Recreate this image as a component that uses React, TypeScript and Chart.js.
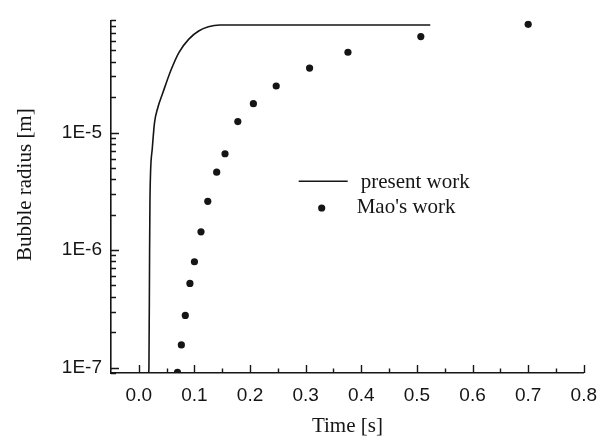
import React, { useEffect, useRef } from "react";
import { Chart, registerables } from "chart.js";

Chart.register(...registerables);

// ---- data ----
const presentTime = [0.0176, 0.0182, 0.0194, 0.02, 0.0212, 0.0242, 0.0282, 0.034, 0.0429, 0.0577, 0.0723, 0.0899, 0.1076, 0.125, 0.146, 0.524];
const presentRadius = [9e-8, 1e-7, 1e-6, 2.5e-6, 4.7e-6, 7.3e-6, 1.21e-5, 1.62e-5, 2.16e-5, 3.39e-5, 4.82e-5, 6.24e-5, 7.31e-5, 7.94e-5, 8.22e-5, 8.22e-5];

const maoTime = [0.0695, 0.0765, 0.0836, 0.0919, 0.1, 0.1118, 0.124, 0.14, 0.155, 0.178, 0.206, 0.247, 0.307, 0.376, 0.507, 0.7];
const maoRadius = [9.1e-8, 1.56e-7, 2.78e-7, 5.2e-7, 7.96e-7, 1.43e-6, 2.6e-6, 4.6e-6, 6.6e-6, 1.24e-5, 1.76e-5, 2.49e-5, 3.54e-5, 4.82e-5, 6.56e-5, 8.33e-5];

const xMajorTicks = [0.0, 0.1, 0.2, 0.3, 0.4, 0.5, 0.6, 0.7, 0.8];
const xMinorTicks = [0.05, 0.15, 0.25, 0.35, 0.45, 0.55, 0.65, 0.75];
const yMajorTicks = [1e-7, 1e-6, 1e-5];
const yDecades = [1e-8, 1e-7, 1e-6, 1e-5];

const seriesNames = ["present work", "Mao's work"];
const xTitle = "Time [s]";
const yTitle = "Bubble radius [m]";

const X_MIN = -0.05;
const X_MAX = 0.8;
const Y_MIN = 9e-8;
const Y_MAX = 9e-5;

const INK = "#151515";
const SANS = "'Liberation Sans', Arial, sans-serif";
const SERIF = "'Liberation Serif', 'Times New Roman', serif";

function fmtSci(v: number) {
  const e = Math.round(Math.log10(v));
  return "1E" + e;
}

const decorPlugin = {
  id: "decor",
  afterDraw(chart: any) {
    const { ctx, chartArea } = chart;
    const xs = chart.scales.x;
    const ys = chart.scales.y;
    ctx.save();
    ctx.strokeStyle = INK;
    ctx.lineWidth = 1.4;
    // x ticks (inward)
    const bottom = chartArea.bottom;
    ctx.beginPath();
    xMajorTicks.forEach((v) => {
      const px = Math.round(xs.getPixelForValue(v)) + 0.5;
      ctx.moveTo(px, bottom);
      ctx.lineTo(px, bottom - 8);
    });
    xMinorTicks.forEach((v) => {
      const px = Math.round(xs.getPixelForValue(v)) + 0.5;
      ctx.moveTo(px, bottom);
      ctx.lineTo(px, bottom - 4.5);
    });
    // y ticks (inward)
    const left = chartArea.left;
    yMajorTicks.forEach((v) => {
      const py = Math.round(ys.getPixelForValue(v)) + 0.5;
      ctx.moveTo(left, py);
      ctx.lineTo(left + 8, py);
    });
    yDecades.forEach((d) => {
      for (let m = 2; m <= 9; m++) {
        const v = m * d;
        if (v < Y_MIN * 0.999 || v > Y_MAX * 1.001) continue;
        const py = Math.round(ys.getPixelForValue(v)) + 0.5;
        ctx.moveTo(left, py);
        ctx.lineTo(left + 5, py);
      }
    });
    ctx.stroke();

    // y title
    ctx.fillStyle = INK;
    ctx.font = "21px " + SERIF;
    ctx.textAlign = "center";
    ctx.textBaseline = "middle";
    ctx.save();
    ctx.translate(25, (chartArea.top + chartArea.bottom) / 2 - 12);
    ctx.rotate(-Math.PI / 2);
    ctx.fillText(yTitle, 0, 0);
    ctx.restore();

    // legend
    const w = chartArea.right - chartArea.left;
    const h = chartArea.bottom - chartArea.top;
    const lx = chartArea.left + 0.397 * w;
    const ly1 = chartArea.top + 0.456 * h;
    const ly2 = chartArea.top + 0.532 * h;
    ctx.lineWidth = 1.5;
    ctx.beginPath();
    ctx.moveTo(lx, ly1);
    ctx.lineTo(lx + 49, ly1);
    ctx.stroke();
    ctx.beginPath();
    ctx.arc(lx + 23, ly2, 3.6, 0, Math.PI * 2);
    ctx.fill();
    ctx.textAlign = "left";
    ctx.textBaseline = "alphabetic";
    ctx.fillText(seriesNames[0], lx + 62, ly1 + 7);
    ctx.fillText(seriesNames[1], lx + 58, ly2 + 5);
    ctx.restore();
  },
};

export default function App() {
  const ref = useRef<HTMLCanvasElement>(null);
  useEffect(() => {
    if (!ref.current) return;
    const chart = new Chart(ref.current, {
      type: "scatter",
      data: {
        datasets: [
          {
            type: "line",
            label: seriesNames[0],
            data: presentTime.map((t, i) => ({ x: t, y: presentRadius[i] })),
            borderColor: INK,
            borderWidth: 1.6,
            pointRadius: 0,
            fill: false,
            cubicInterpolationMode: "monotone",
          },
          {
            type: "scatter",
            label: seriesNames[1],
            data: maoTime.map((t, i) => ({ x: t, y: maoRadius[i] })),
            backgroundColor: INK,
            borderColor: INK,
            borderWidth: 0,
            pointRadius: 3.6,
          },
        ],
      } as any,
      options: {
        animation: false,
        responsive: false,
        maintainAspectRatio: false,
        layout: { padding: { left: 0, right: 15, top: 14, bottom: 0 } },
        plugins: { legend: { display: false }, tooltip: { enabled: false } },
        scales: {
          x: {
            type: "linear",
            min: X_MIN,
            max: X_MAX,
            afterBuildTicks: (scale: any) => {
              scale.ticks = xMajorTicks.map((v) => ({ value: v }));
            },
            afterFit: (scale: any) => {
              scale.height = 64;
            },
            grid: { display: false, drawTicks: false },
            border: { display: true, color: INK, width: 1.6 },
            ticks: {
              autoSkip: false,
              maxRotation: 0,
              padding: 11,
              color: INK,
              font: { family: SANS, size: 19 },
              callback: (v: any) => Number(v).toFixed(1),
            },
            title: {
              display: true,
              text: xTitle,
              color: INK,
              font: { family: SERIF, size: 21, lineHeight: 1 },
              padding: { top: 0, bottom: 0 },
            },
          },
          y: {
            type: "logarithmic",
            min: Y_MIN,
            max: Y_MAX,
            afterBuildTicks: (scale: any) => {
              scale.ticks = yMajorTicks.map((v) => ({ value: v }));
            },
            afterFit: (scale: any) => {
              scale.width = 111;
            },
            grid: { display: false, drawTicks: false },
            border: { display: true, color: INK, width: 1.6 },
            ticks: {
              autoSkip: false,
              padding: 9,
              color: INK,
              font: { family: SANS, size: 19 },
              callback: (v: any) => fmtSci(Number(v)),
            },
            title: { display: false },
          },
        },
      } as any,
      plugins: [decorPlugin],
    });
    return () => chart.destroy();
  }, []);
  return (
    <div style={{ position: "absolute", left: 0, top: 0, width: 608, height: 437, background: "#fff" }}>
      <canvas ref={ref} width={608} height={437} style={{ width: 608, height: 437 }} />
    </div>
  );
}
